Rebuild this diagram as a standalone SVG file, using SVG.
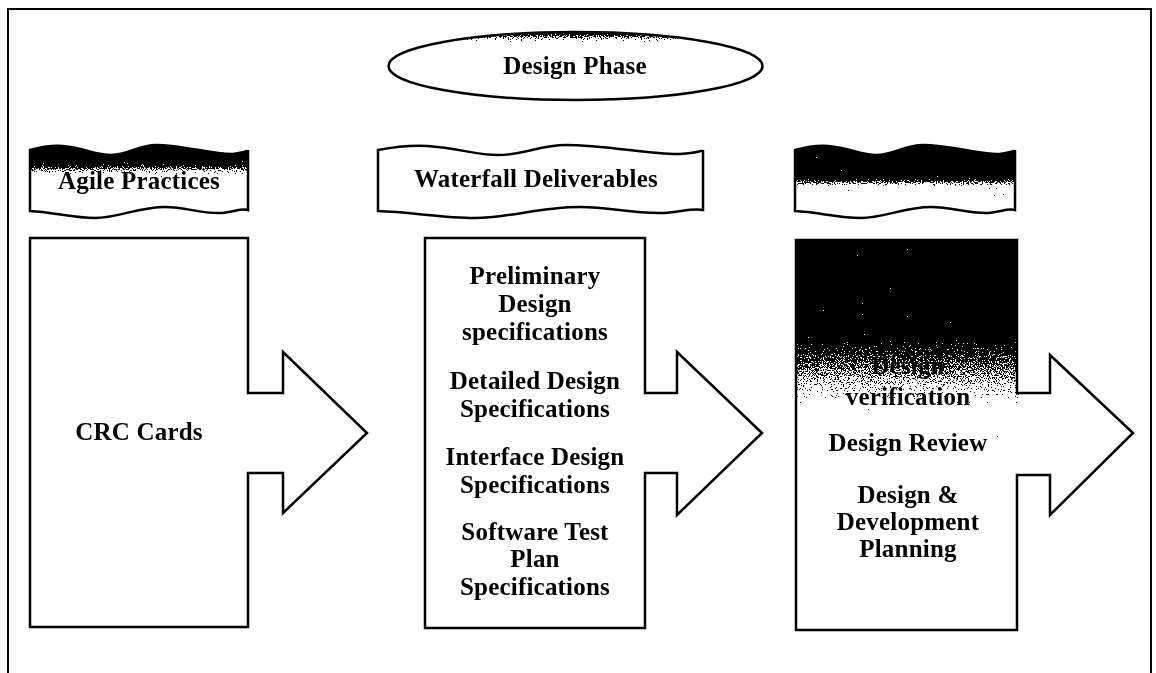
<svg xmlns="http://www.w3.org/2000/svg" width="1156" height="673" viewBox="0 0 1156 673">
  <style>
    .outline { fill: none; stroke: #000; stroke-width: 2.5; stroke-linejoin: miter; }
    .paper { fill: #fff; }
    .lbl { font-family: "Liberation Serif", "Times New Roman", serif; font-weight: bold; font-size: 25px; fill: #000; text-anchor: middle; letter-spacing: 0.2px; }
    .frame { fill: none; stroke: #000; stroke-width: 2; }
  </style>
  <defs>
    <!-- dithered tone: gradient + noise, thresholded to pure black/white -->
    <filter id="grain" x="0" y="0" width="1" height="1" color-interpolation-filters="sRGB">
      <feTurbulence type="fractalNoise" baseFrequency="0.85" numOctaves="2" seed="7" result="noise"/>
      <feColorMatrix in="noise" type="matrix" values="1 0 0 0 0  1 0 0 0 0  1 0 0 0 0  0 0 0 0 1" result="gray"/>
      <feComposite in="SourceGraphic" in2="gray" operator="arithmetic" k1="0" k2="1" k3="1.4" k4="-0.7" result="mix"/>
      <feComponentTransfer in="mix">
        <feFuncR type="discrete" tableValues="0 1"/>
        <feFuncG type="discrete" tableValues="0 1"/>
        <feFuncB type="discrete" tableValues="0 1"/>
      </feComponentTransfer>
    </filter>

    <linearGradient id="toneEllipse" gradientUnits="userSpaceOnUse" x1="0" y1="31" x2="0" y2="43">
      <stop offset="0" stop-color="#000"/>
      <stop offset="1" stop-color="#fff"/>
    </linearGradient>
    <linearGradient id="toneBanner1" gradientUnits="userSpaceOnUse" x1="0" y1="162" x2="0" y2="176">
      <stop offset="0" stop-color="#000"/>
      <stop offset="1" stop-color="#fff"/>
    </linearGradient>
    <linearGradient id="toneBanner3" gradientUnits="userSpaceOnUse" x1="0" y1="177" x2="0" y2="188">
      <stop offset="0" stop-color="#000"/>
      <stop offset="1" stop-color="#fff"/>
    </linearGradient>
    <linearGradient id="toneBox3" gradientUnits="userSpaceOnUse" x1="0" y1="330" x2="0" y2="412">
      <stop offset="0" stop-color="#000"/>
      <stop offset="1" stop-color="#fff"/>
    </linearGradient>

    <path id="shapeBanner1" d="M30,150 C41,147 52,145 63,146 C85,148 95,155 111,155 C128,155 139,145 156,145 C183,145 215,155 233,154 C242,153 248,151 248,150 L248,210 C242,208 233,212 222,213 C200,214 187,207 165,207 C139,207 117,218 95,218 C74,218 52,212 30,211 Z"/>
    <path id="shapeBanner2" d="M378,150 C394,147 410,145 427,146 C459,148 475,155 498,155 C524,155 540,145 566,145 C605,145 654,155 680,154 C693,153 703,151 703,150 L703,210 C693,208 680,212 664,213 C631,214 612,207 580,207 C540,207 508,218 475,218 C443,218 410,212 378,211 Z"/>
    <path id="shapeBanner3" d="M795,150 C806,147 817,145 828,146 C850,148 861,155 876,155 C894,155 905,145 923,145 C949,145 982,155 1000,154 C1008,153 1015,151 1015,150 L1015,210 C1008,208 1000,212 989,213 C967,214 953,207 931,207 C905,207 883,218 861,218 C839,218 817,212 795,211 Z"/>
    <path id="shapeBox1" d="M30,238 H248 V393 H283 V352 L367,433 L283,513 V473 H248 V627 H30 Z"/>
    <path id="shapeBox2" d="M425,238 H645 V393 H677 V352 L762,433 L677,515 V473 H645 V628 H425 Z"/>
    <path id="shapeBox3" d="M796,240 H1017 V393 H1050 V355 L1133,433 L1050,515 V475 H1017 V630 H796 Z"/>

    <clipPath id="clipEllipse"><ellipse cx="575.5" cy="66" rx="187" ry="34"/></clipPath>
    <clipPath id="clipBanner1"><use href="#shapeBanner1"/></clipPath>
    <clipPath id="clipBanner3"><use href="#shapeBanner3"/></clipPath>
    <clipPath id="clipBox3"><use href="#shapeBox3"/></clipPath>
  </defs>

  <rect x="0" y="0" width="1156" height="673" fill="#fff"/>

  <!-- page frame (open at the bottom) -->
  <g id="frame">
    <path class="frame" d="M8,673 V9 H1151 V673"/>
  </g>

  <!-- title -->
  <g id="design-phase">
    <ellipse class="paper" cx="575.5" cy="66" rx="187" ry="34"/>
    <rect x="388" y="31" width="376" height="16" fill="url(#toneEllipse)" filter="url(#grain)" clip-path="url(#clipEllipse)"/>
    <ellipse class="outline" cx="575.5" cy="66" rx="187" ry="34"/>
    <text class="lbl" x="575" y="74">Design Phase</text>
  </g>

  <!-- column headers -->
  <g id="banner-agile">
    <use href="#shapeBanner1" class="paper"/>
    <text class="lbl" x="139" y="189">Agile Practices</text>
    <rect x="29" y="143" width="221" height="40" fill="url(#toneBanner1)" filter="url(#grain)" clip-path="url(#clipBanner1)" style="mix-blend-mode: multiply"/>
    <use href="#shapeBanner1" class="outline"/>
  </g>

  <g id="banner-waterfall">
    <use href="#shapeBanner2" class="paper"/>
    <use href="#shapeBanner2" class="outline"/>
    <text class="lbl" x="536" y="187">Waterfall Deliverables</text>
  </g>

  <g id="banner-controls">
    <use href="#shapeBanner3" class="paper"/>
    <rect x="794" y="143" width="223" height="55" fill="url(#toneBanner3)" filter="url(#grain)" clip-path="url(#clipBanner3)"/>
    <use href="#shapeBanner3" class="outline"/>
  </g>

  <!-- block arrows -->
  <g id="box-agile">
    <use href="#shapeBox1" class="paper"/>
    <use href="#shapeBox1" class="outline"/>
    <text class="lbl" x="139" y="440">CRC Cards</text>
  </g>

  <g id="box-waterfall">
    <use href="#shapeBox2" class="paper"/>
    <use href="#shapeBox2" class="outline"/>
    <text class="lbl" x="535" y="284">Preliminary</text>
    <text class="lbl" x="535" y="312">Design</text>
    <text class="lbl" x="535" y="340">specifications</text>
    <text class="lbl" x="535" y="389">Detailed Design</text>
    <text class="lbl" x="535" y="417">Specifications</text>
    <text class="lbl" x="535" y="465">Interface Design</text>
    <text class="lbl" x="535" y="493">Specifications</text>
    <text class="lbl" x="535" y="540">Software Test</text>
    <text class="lbl" x="535" y="567">Plan</text>
    <text class="lbl" x="535" y="595">Specifications</text>
  </g>

  <g id="box-controls">
    <use href="#shapeBox3" class="paper"/>
    <rect x="795" y="239" width="224" height="200" fill="url(#toneBox3)" filter="url(#grain)" clip-path="url(#clipBox3)"/>
    <use href="#shapeBox3" class="outline"/>
    <text class="lbl" x="908" y="374">Design</text>
    <text class="lbl" x="908" y="405">verification</text>
    <text class="lbl" x="908" y="451">Design Review</text>
    <text class="lbl" x="908" y="503">Design &amp;</text>
    <text class="lbl" x="908" y="530">Development</text>
    <text class="lbl" x="908" y="557">Planning</text>
  </g>

  <g id="connectors"/>
</svg>
